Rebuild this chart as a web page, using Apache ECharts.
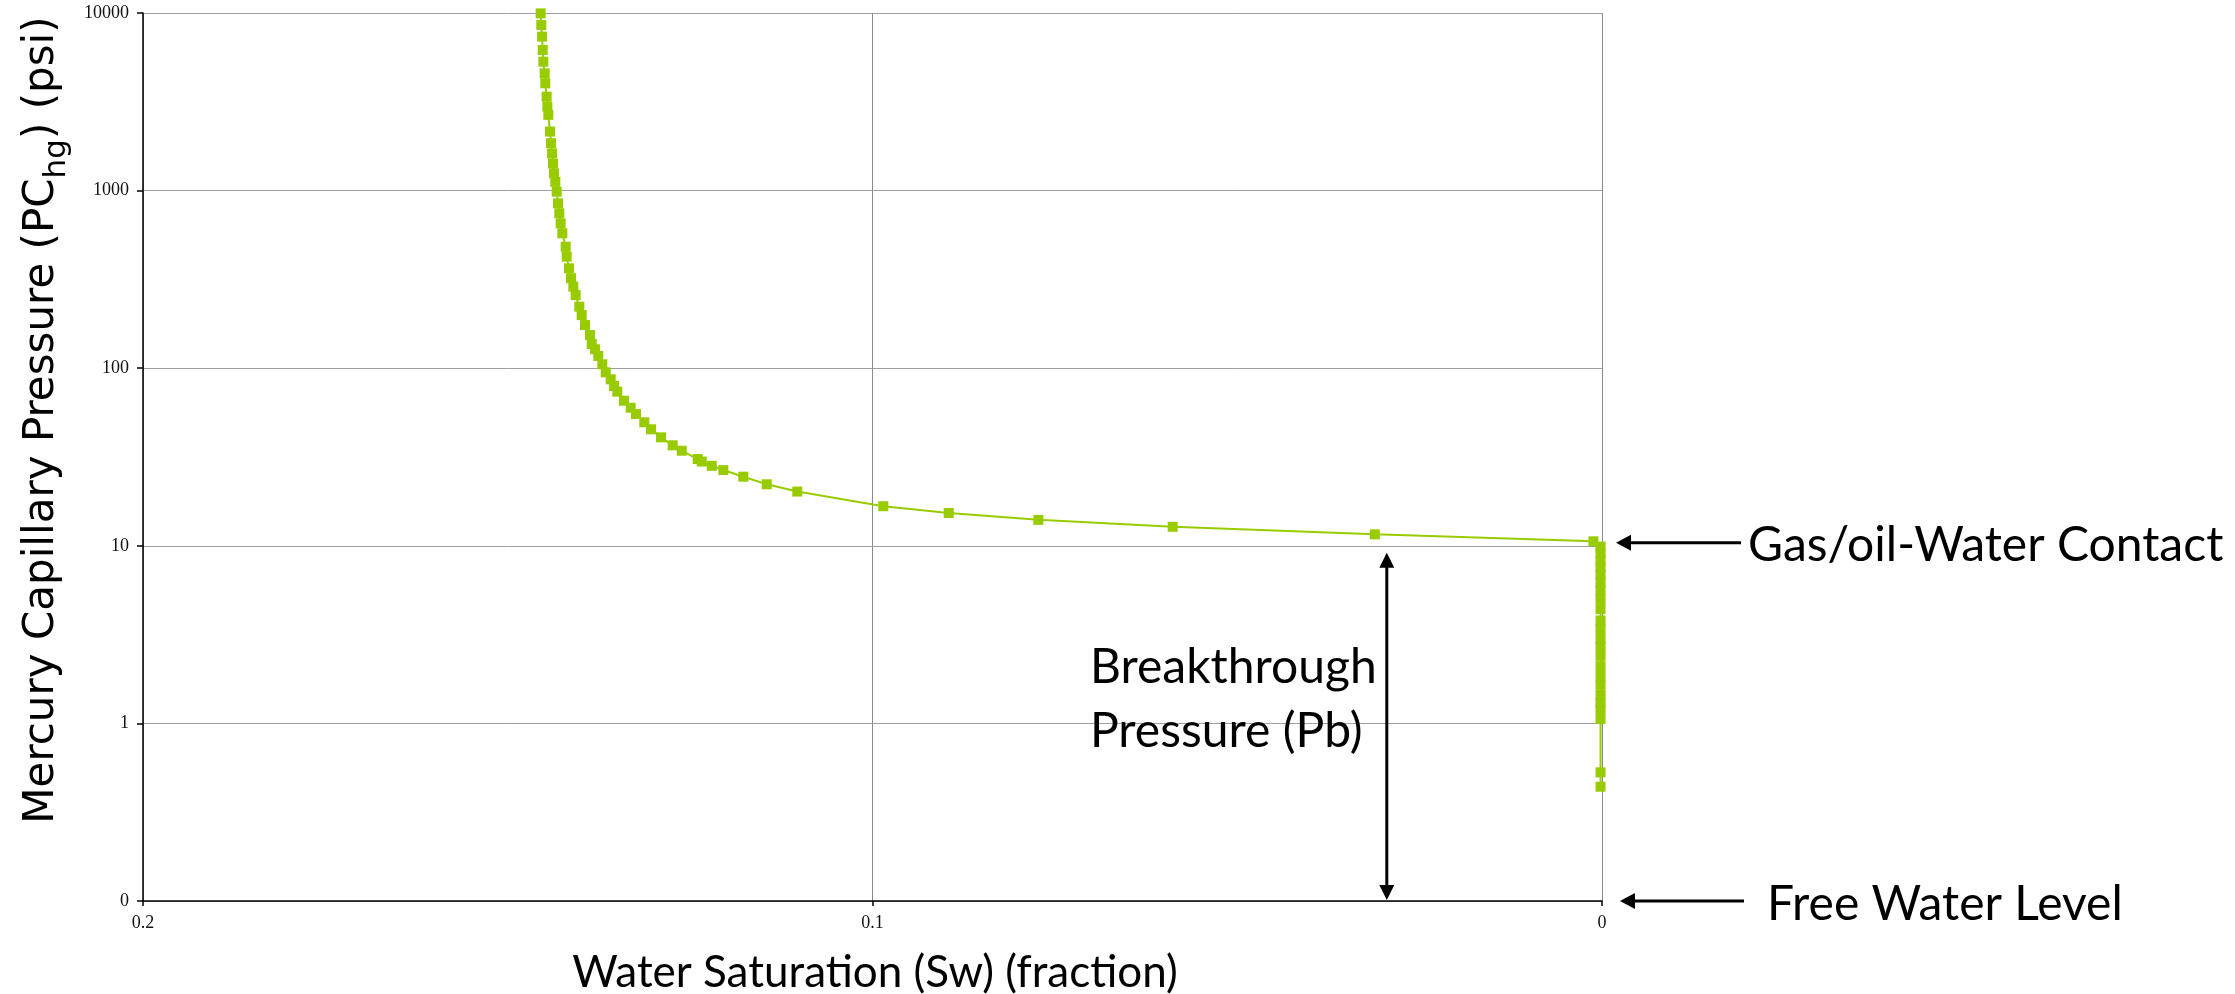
<!DOCTYPE html>
<html>
<head>
<meta charset="utf-8">
<script src="https://cdn.jsdelivr.net/npm/echarts@6/dist/echarts.min.js"></script>
<style>
  html, body { margin: 0; padding: 0; background: #ffffff; }
  #chart { width: 2235px; height: 994px; }
</style>
</head>
<body>
<div id="chart"></div>
<script>
// Mercury injection capillary pressure curve: water saturation (fraction) vs Pc (psi)
const sw = [
  0.14549, 0.14540, 0.14530, 0.14521, 0.14512, 0.14494, 0.14485, 0.14467, 0.14457, 0.14444,
  0.14421, 0.14407, 0.14393, 0.14380, 0.14366, 0.14348, 0.14329, 0.14311, 0.14293, 0.14275,
  0.14252, 0.14206, 0.14192, 0.14160, 0.14133, 0.14101, 0.14069, 0.14019, 0.13987, 0.13941,
  0.13873, 0.13849, 0.13804, 0.13759, 0.13704, 0.13657, 0.13589, 0.13544, 0.13498, 0.13407,
  0.13315, 0.13242, 0.13128, 0.13036, 0.12899, 0.12739, 0.12615, 0.12396, 0.12341, 0.12204,
  0.12045, 0.11771, 0.11450, 0.11031, 0.09852, 0.08955, 0.07726, 0.05885, 0.03114, 0.00118,
  0.0002, 0.0002, 0.0002, 0.0002, 0.0002, 0.0002, 0.0002, 0.0002, 0.0002, 0.0002,
  0.0002, 0.0002, 0.0002, 0.0002, 0.0002, 0.0002, 0.0002, 0.0002, 0.0002, 0.0002,
  0.0002, 0.0002, 0.0002
];
const pc = [
  9950, 8560, 7360, 6190, 5320, 4570, 4020, 3380, 2970, 2670,
  2150, 1850, 1620, 1420, 1250, 1120, 986, 848, 745, 654,
  575, 483, 425, 365, 321, 288, 258, 222, 199, 175,
  153.8, 136.9, 127.8, 117.1, 105.2, 94.8, 86.6, 79.4, 73.8, 65.6,
  59.9, 55.2, 49.6, 45.3, 40.8, 36.8, 34.3, 30.8, 29.8, 28.2,
  26.7, 24.5, 22.2, 20.2, 16.7, 15.3, 14.0, 12.8, 11.6, 10.6,
  9.9, 9.1, 8.3, 7.6, 6.9, 6.2, 5.6, 5.0, 4.4, 3.8,
  3.4, 3.0, 2.7, 2.4, 2.1, 1.85, 1.65, 1.45, 1.3, 1.2,
  1.06, 0.53, 0.44
];

// Axis extents
const swMin = 0, swMax = 0.2, swStep = 0.1;
const pressureMin = 0.1, pressureMax = 10000;

// Annotation anchors
const contactPressure = 10;      // breakthrough pressure, at the gas/oil-water contact
const freeWaterPressure = 0.1;   // plot floor, the free water level
const pbSw = 0.0295;             // saturation where the Pb bracket is drawn

const GREEN = '#99cc00';
const NOTE_FONT = 'Lato, "Open Sans", sans-serif';

const chart = echarts.init(document.getElementById('chart'), null, { renderer: 'canvas' });

chart.setOption({
  animation: false,
  backgroundColor: '#ffffff',
  grid: { left: 143, right: 633, top: 13, bottom: 93, containLabel: false },
  xAxis: {
    type: 'value',
    inverse: true,
    min: swMin,
    max: swMax,
    interval: swStep,
    axisLine: { show: true, onZero: false, lineStyle: { color: '#000', width: 1.5 } },
    axisTick: { show: true, inside: false, length: 5, lineStyle: { color: '#000', width: 1.5 } },
    axisLabel: { margin: 13, fontFamily: '"Liberation Serif", serif', fontSize: 18, color: '#111' },
    splitLine: { show: true, lineStyle: { color: '#8a8a8a', width: 1 } }
  },
  yAxis: {
    type: 'log',
    logBase: 10,
    min: pressureMin,
    max: pressureMax,
    splitNumber: 5,
    axisLine: { show: true, onZero: false, lineStyle: { color: '#000', width: 1.5 } },
    axisTick: { show: true, inside: false, length: 6, lineStyle: { color: '#000', width: 1.5 } },
    axisLabel: {
      margin: 14,
      fontFamily: '"Liberation Serif", serif',
      fontSize: 18,
      color: '#111',
      formatter: function (v) { return v < 1 ? '0' : String(Math.round(v)); }
    },
    splitLine: { show: true, lineStyle: { color: '#a0a0a0', width: 1 } },
    minorTick: { show: false },
    minorSplitLine: { show: false }
  },
  series: [{
    type: 'line',
    data: sw.map(function (s, i) { return [s, pc[i]]; }),
    symbol: 'rect',
    symbolSize: [10, 10],
    showAllSymbol: true,
    itemStyle: { color: GREEN },
    lineStyle: { color: GREEN, width: 2 },
    emphasis: { disabled: true },
    z: 3
  }]
});

// Text width helper for laying out the rotated axis title
const measureCtx = document.createElement('canvas').getContext('2d');
function textWidth(str, font) { measureCtx.font = font; return measureCtx.measureText(str).width; }

function toPx(s, p) { return chart.convertToPixel({ gridIndex: 0 }, [s, p]); }

const xRight = toPx(0, contactPressure)[0];
const yContact = toPx(0, contactPressure)[1];
const yFloor = toPx(0, freeWaterPressure)[1];
const xPb = toPx(pbSw, contactPressure)[0];

function leftArrow(xTip, y, xTail) {
  return [
    { type: 'line', shape: { x1: xTip + 12, y1: y, x2: xTail, y2: y }, style: { stroke: '#000', lineWidth: 3 }, z: 10 },
    { type: 'polygon', shape: { points: [[xTip, y], [xTip + 15, y - 8], [xTip + 15, y + 8]] }, style: { fill: '#000' }, z: 10 }
  ];
}

function doubleArrow(x, yTop, yBot) {
  return [
    { type: 'line', shape: { x1: x, y1: yTop + 12, x2: x, y2: yBot - 12 }, style: { stroke: '#000', lineWidth: 3 }, z: 10 },
    { type: 'polygon', shape: { points: [[x, yTop], [x - 7.5, yTop + 15], [x + 7.5, yTop + 15]] }, style: { fill: '#000' }, z: 10 },
    { type: 'polygon', shape: { points: [[x, yBot], [x - 7.5, yBot - 15], [x + 7.5, yBot - 15]] }, style: { fill: '#000' }, z: 10 }
  ];
}

function note(str, x, y, size, align) {
  return {
    type: 'text', x: x, y: y, z: 10,
    style: { text: str, fontFamily: NOTE_FONT, fontSize: size, fill: '#000', align: align || 'left', verticalAlign: 'middle' }
  };
}

// Rotated y-axis title with the "hg" subscript
const TITLE_FONT_FAMILY = '"DejaVu Sans", Verdana, sans-serif';
const mainSize = 42, subSize = 31;
const partA = 'Mercury Capillary Pressure (PC', partB = 'hg', partC = ') (psi)';
const wA = textWidth(partA, mainSize + 'px ' + TITLE_FONT_FAMILY);
const wB = textWidth(partB, subSize + 'px ' + TITLE_FONT_FAMILY);
const wC = textWidth(partC, mainSize + 'px ' + TITLE_FONT_FAMILY);
const titleLen = wA + wB + wC;
const titleCenterY = 420;

function titlePart(str, x, y, size) {
  return {
    type: 'text', x: x, y: y,
    style: { text: str, fontFamily: TITLE_FONT_FAMILY, fontSize: size, fill: '#000', align: 'left', verticalAlign: 'middle' }
  };
}

const graphics = []
  .concat(leftArrow(xRight + 14, yContact - 3, xRight + 139))
  .concat(leftArrow(xRight + 18, yFloor, xRight + 142))
  .concat(doubleArrow(xPb, yContact + 7, yFloor - 1))
  .concat([
    note('Gas/oil-Water Contact', xRight + 146, yContact, 48),
    note('Free Water Level', xRight + 165, yFloor + 4, 48),
    note('Breakthrough', 1090, 668, 48),
    note('Pressure (Pb)', 1090, 732, 48),
    {
      type: 'text', x: 875, y: 973, z: 10,
      style: { text: 'Water Saturation (Sw) (fraction)', fontFamily: NOTE_FONT, fontSize: 44, fill: '#000', align: 'center', verticalAlign: 'middle' }
    },
    {
      type: 'group',
      x: 42,
      y: titleCenterY + titleLen / 2,
      rotation: Math.PI / 2,
      children: [
        titlePart(partA, 0, 0, mainSize),
        titlePart(partB, wA, 15, subSize),
        titlePart(partC, wA + wB, 0, mainSize)
      ]
    }
  ]);

chart.setOption({ graphic: graphics });
</script>
</body>
</html>
